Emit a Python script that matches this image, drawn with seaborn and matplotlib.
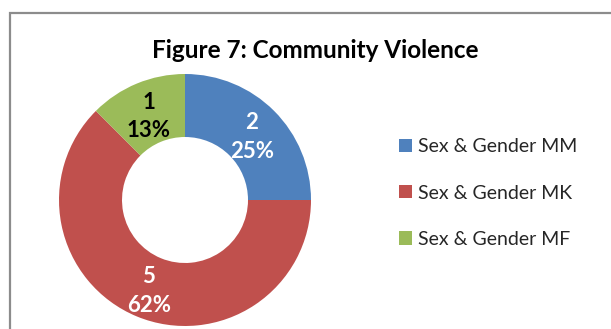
import matplotlib.pyplot as plt
import seaborn as sns
import numpy as np
from matplotlib.patches import Patch, Rectangle

sns.set_theme(style='white')
plt.rcParams['font.family'] = ['Lato', 'DejaVu Sans']

# data
categories = ['Sex & Gender MM', 'Sex & Gender MK', 'Sex & Gender MF']
counts = [2, 5, 1]
pct_labels = ['25%', '62%', '13%']
colors = ['#4F81BD', '#C0504D', '#9BBB59']
label_colors = ['white', 'white', 'black']

fig = plt.figure(figsize=(6.11, 3.29), dpi=100)

# chart frame (runs off the right and bottom edges like the screenshot)
fig.patches.append(Rectangle((10 / 611, -0.1), 1.2, 0.1 + 1 - 13 / 329,
                             transform=fig.transFigure, fill=False,
                             edgecolor='#8c8c8c', linewidth=1.6))

ax = fig.add_axes([59 / 611, 3 / 329, 252 / 611, 252 / 329])
wedges, _ = ax.pie(counts, colors=colors, startangle=90, counterclock=False,
                   radius=1.0, wedgeprops=dict(width=0.5, edgecolor='white', linewidth=0))
ax.set_xlim(-1, 1)
ax.set_ylim(-1, 1)
ax.axis('off')

# data labels: value + percent in the middle of each ring segment
for w, n, p, c in zip(wedges, counts, pct_labels, label_colors):
    ang = np.deg2rad((w.theta1 + w.theta2) / 2)
    r = 0.75
    ax.text(r * np.cos(ang), r * np.sin(ang) - 0.03, f'{n}\n{p}', ha='center', va='center',
            color=c, fontsize=16, fontweight='bold', linespacing=1.45)

fig.text(315 / 611, 1 - 51 / 329, 'Figure 7: Community Violence', ha='center', va='center',
         fontsize=17.5, fontweight='bold', color='black')

handles = [Patch(facecolor=c, edgecolor='none') for c in colors]
fig.legend(handles, categories, loc='center left', bbox_to_anchor=(399 / 611, 1 - 193 / 329),
           frameon=False, fontsize=14, handlelength=0.68, handleheight=0.68,
           handletextpad=0.3, labelspacing=1.5, borderaxespad=0, borderpad=0)

fig.savefig('out.png', dpi=100)
